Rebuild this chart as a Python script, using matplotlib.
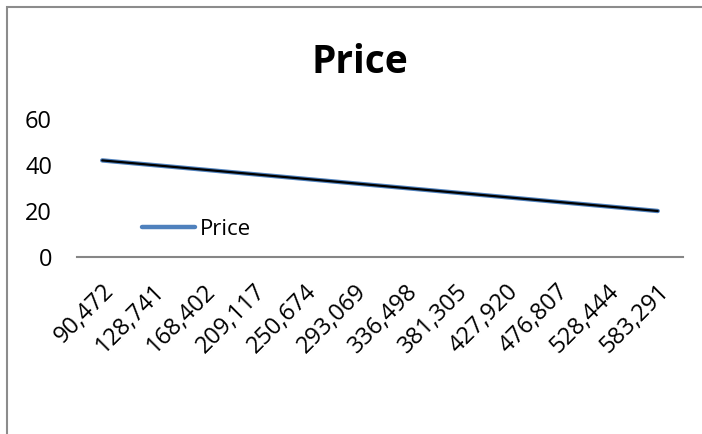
import numpy as np
import matplotlib
matplotlib.use('Agg')
import matplotlib.pyplot as plt
from matplotlib.patches import Rectangle

# price series over population buckets
categories = ['90,472', '128,741', '168,402', '209,117', '250,674', '293,069',
              '336,498', '381,305', '427,920', '476,807', '528,444', '583,291']
price = [42, 40, 38, 36, 34, 32, 30, 28, 26, 24, 22, 20]

plt.rcParams['font.family'] = ['Open Sans', 'DejaVu Sans']

fig = plt.figure(figsize=(7.02, 4.34), dpi=100)
ax = fig.add_axes([77 / 702, 177 / 434, 606 / 702, 138 / 434])

x = np.arange(len(categories))
ax.plot(x, price, color='#4F81BD', lw=3.2, solid_capstyle='round', label='Price')

# linear trendline drawn over the series
coef = np.polyfit(x, price, 1)
ax.plot(x, np.polyval(coef, x), color='black', lw=1.6, solid_capstyle='round')

ax.set_xlim(-0.5, len(categories) - 0.5)
ax.set_ylim(0, 60)
ax.set_yticks([0, 20, 40, 60])
ax.set_xticks(x)
ax.set_xticklabels(categories, rotation=45, ha='right', rotation_mode='anchor')
ax.tick_params(axis='both', length=0, labelsize=17)
ax.tick_params(axis='y', pad=18)
ax.tick_params(axis='x', pad=16)

for s in ['left', 'right', 'top']:
    ax.spines[s].set_visible(False)
ax.spines['bottom'].set_color('#868686')
ax.spines['bottom'].set_linewidth(1.5)

ax.legend(loc='center left', bbox_to_anchor=(0.107, 0.2), frameon=False,
          fontsize=16, handlelength=2.4, handletextpad=0.2,
          borderaxespad=0, borderpad=0)

fig.text(360 / 702, 1 - 73 / 434, 'Price', fontsize=28, fontweight='bold',
         ha='center', va='baseline')

# chart area border
fig.patches.append(Rectangle((7 / 702, -0.1), 1.1, 1 - 7 / 434 + 0.1,
                             transform=fig.transFigure, fill=False,
                             edgecolor='#8c8c8c', lw=1.5))

fig.savefig('out.png', dpi=100, facecolor='white')
